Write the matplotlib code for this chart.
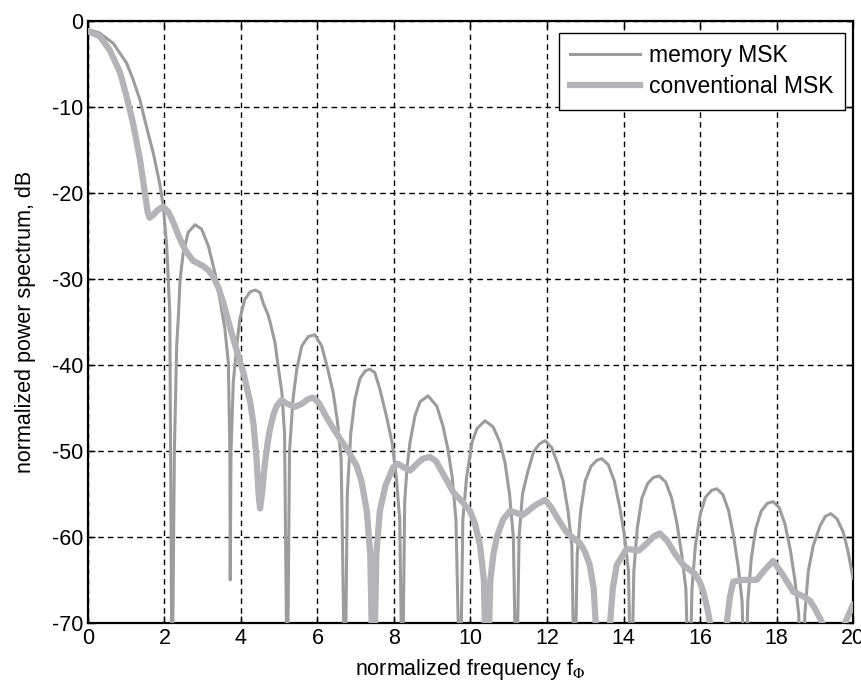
import matplotlib
matplotlib.use("Agg")
import matplotlib.pyplot as plt

plt.rcParams['font.family'] = ['Liberation Sans', 'DejaVu Sans']
plt.rcParams['axes.unicode_minus'] = False
plt.rcParams['mathtext.fontset'] = 'stix'

# ---- memory MSK (thin dotted gray) ----
mem_x = [0.0, 0.3, 0.66, 1.01, 1.18, 1.36, 1.53, 1.71, 1.88, 1.97, 2.06, 2.14, 2.2,
         2.26, 2.32, 2.37, 2.41, 2.49, 2.62, 2.8, 2.97, 3.15, 3.32, 3.45, 3.58, 3.67, 3.71, 3.72,
         3.74, 3.8, 3.89, 3.97, 4.1, 4.24, 4.38, 4.5, 4.58, 4.71, 4.76, 4.89, 4.97, 5.07, 5.14, 5.21,
         5.27, 5.36, 5.46, 5.59, 5.76, 5.93, 6.11, 6.27, 6.41, 6.52, 6.62, 6.72,
         6.78, 6.87, 6.98, 7.11, 7.25, 7.37, 7.5, 7.63, 7.8, 7.95, 8.06, 8.15, 8.22,
         8.28, 8.34, 8.42, 8.55, 8.68, 8.89, 9.12, 9.28, 9.41, 9.52, 9.62, 9.73,
         9.8, 9.9, 10.04, 10.17, 10.38, 10.59, 10.77, 10.9, 11.02, 11.12, 11.2,
         11.27, 11.36, 11.5, 11.65, 11.8, 11.95, 12.12, 12.28, 12.42, 12.55, 12.65, 12.72,
         12.79, 12.88, 13.0, 13.15, 13.3, 13.43, 13.6, 13.76, 13.9, 14.03, 14.13, 14.2,
         14.27, 14.36, 14.48, 14.63, 14.78, 14.93, 15.1, 15.26, 15.4, 15.52, 15.63, 15.72,
         15.79, 15.88, 16.0, 16.14, 16.3, 16.44, 16.6, 16.75, 16.88, 17.0, 17.1, 17.18,
         17.25, 17.34, 17.46, 17.6, 17.76, 17.91, 18.07, 18.22, 18.36, 18.48, 18.58, 18.67,
         18.74, 18.83, 18.96, 19.14, 19.28, 19.42, 19.58, 19.74, 19.86, 20.0]
mem_db = [-1.0, -1.4, -2.6, -4.9, -6.8, -9.2, -12.3, -15.4, -19.0, -21.6, -26.2, -33.9, -80,
          -50, -37.8, -33.9, -30.0, -27.0, -24.6, -23.7, -24.2, -26.2, -29.3, -32.4, -35.8, -39.7, -50, -65,
          -50, -42, -37.8, -34.7, -32.4, -31.5, -31.3, -31.6, -32.8, -34.2, -35.0, -37.4, -40.1, -43.2, -48, -80,
          -50, -44, -40.5, -37.8, -36.7, -36.5, -37.8, -40.5, -43.2, -46.5, -51, -80,
          -55, -48, -44, -41.6, -40.7, -40.5, -40.9, -42.8, -45.9, -49, -53, -58, -80,
          -56, -52, -49, -45.9, -44.3, -43.6, -44.8, -47.1, -49.8, -53, -58, -80,
          -58, -53, -49, -47.4, -46.5, -47.2, -49, -51.3, -55, -60, -80,
          -60, -55, -52.4, -50.1, -49.2, -48.8, -49.6, -51.5, -53.5, -57, -61, -80,
          -62, -57, -53.5, -51.8, -51.1, -50.9, -51.6, -53.5, -56.5, -60, -64, -80,
          -64, -59, -55.5, -53.8, -53.1, -52.9, -53.6, -55.5, -58.5, -62, -66, -80,
          -66, -61, -57.5, -55.4, -54.6, -54.4, -55.1, -57, -60, -63.5, -67.5, -80,
          -67.5, -62.5, -59, -57, -56.1, -55.9, -56.6, -58.5, -61.5, -65, -69, -80,
          -69, -64, -61, -58.7, -57.6, -57.3, -57.9, -59.4, -61.5, -64.8]

# ---- conventional MSK (thick light gray) ----
conv_x = [0.0, 0.31, 0.57, 0.84, 1.01, 1.18, 1.36, 1.49, 1.56, 1.61, 1.7, 1.8, 1.96, 2.1, 2.23,
          2.37, 2.49, 2.58, 2.75, 3.01, 3.15, 3.28, 3.41, 3.54, 3.8, 4.07, 4.25, 4.33, 4.41, 4.46,
          4.5, 4.55, 4.63, 4.7, 4.76, 4.85, 4.93, 5.06, 5.2, 5.41, 5.6, 5.75, 5.89, 6.05, 6.2, 6.4,
          6.59, 6.8, 7.02, 7.15, 7.29, 7.38, 7.46, 7.54, 7.63, 7.78, 7.98, 8.1, 8.25, 8.42, 8.6,
          8.76, 8.94, 9.1, 9.3, 9.55, 9.8, 9.99, 10.12, 10.25, 10.35, 10.43, 10.52, 10.6, 10.69,
          10.85, 11.03, 11.2, 11.35, 11.5, 11.7, 11.95, 12.1, 12.3, 12.5, 12.7, 12.86, 13.0, 13.12,
          13.22, 13.3, 13.48, 13.65, 13.72, 13.82, 14.08, 14.25, 14.4, 14.6, 14.8, 14.95, 15.15,
          15.35, 15.57, 15.87, 16.0, 16.09, 16.2, 16.26, 16.48, 16.7, 16.78, 16.87, 17.12, 17.48,
          17.7, 17.91, 18.15, 18.44, 18.65, 18.87, 19.0, 19.14, 19.3, 19.5, 19.79, 20.0]
conv_db = [-1.2, -1.8, -3.4, -6.0, -8.8, -11.9, -16.1, -20.0, -22.2, -22.9, -22.6, -22.1, -21.6, -22.2, -23.4,
           -25.0, -26.2, -26.9, -27.9, -28.5, -29.0, -29.8, -31.0, -32.8, -37.0, -41.0, -44.5, -47.0, -51.0, -55.0,
           -56.7, -55.0, -51.3, -49.0, -47.4, -45.8, -44.8, -44.1, -44.5, -44.9, -44.5, -44.0, -43.8, -44.5, -45.8, -47.3,
           -48.6, -50.0, -51.7, -53.5, -57.0, -62.0, -80, -62.0, -57.0, -54.0, -51.9, -51.5, -51.9, -52.3, -51.5,
           -50.9, -50.7, -51.2, -52.8, -54.8, -56.0, -57.0, -58.5, -61.0, -65.0, -80, -65.0, -62.0, -60.0,
           -58.0, -57.0, -57.2, -57.5, -57.0, -56.3, -55.7, -56.5, -58.0, -59.4, -60.2, -60.7, -61.8, -63.3,
           -66.0, -72.0, -80, -70.0, -66.0, -63.3, -61.4, -61.5, -61.6, -60.8, -59.9, -59.6, -60.5,
           -62.0, -63.3, -64.3, -65.3, -66.4, -68.5, -70.0, -80, -70.0, -67.0, -65.2, -65.0, -65.0,
           -63.8, -62.8, -64.3, -66.4, -66.8, -67.4, -68.3, -69.5, -71.0, -75.0, -70.0, -67.9]

xticks = list(range(0, 21, 2))
yticks = list(range(-70, 1, 10))

fig = plt.figure(figsize=(8.62, 6.86), dpi=100)
ax = fig.add_axes([0.102, 0.092, 0.8876, 0.8776])

ax.plot(mem_x, mem_db, color='#9c9c9c', lw=2.2, label='memory MSK', zorder=3)
ax.plot(conv_x, conv_db, color='#b4b4b8', lw=4.5, label='conventional MSK', zorder=4)

ax.set_xlim(0, 20)
ax.set_ylim(-70, 0)
ax.set_xticks(xticks)
ax.set_yticks(yticks)
ax.tick_params(direction='in', top=True, right=True, length=5, width=1, labelsize=15.5,
               colors='black')
for s in ax.spines.values():
    s.set_linewidth(1.6)

ax.grid(True, color='black', linestyle=(0, (4, 3)), linewidth=1.0)
ax.set_axisbelow(True)

ax.set_xlabel(r'normalized frequency f$_{\Phi}$', fontsize=15.5, labelpad=6)
ax.set_ylabel('normalized power spectrum, dB', fontsize=15.5, labelpad=11)

leg = ax.legend(loc='upper right', bbox_to_anchor=(0.9895, 0.98), borderaxespad=0,
                fontsize=16.5, fancybox=False, framealpha=1, edgecolor='black',
                handlelength=3.05, handletextpad=0.4, borderpad=0.5, labelspacing=0.35)
leg.get_frame().set_linewidth(1.0)

fig.savefig('out.png', dpi=100)
